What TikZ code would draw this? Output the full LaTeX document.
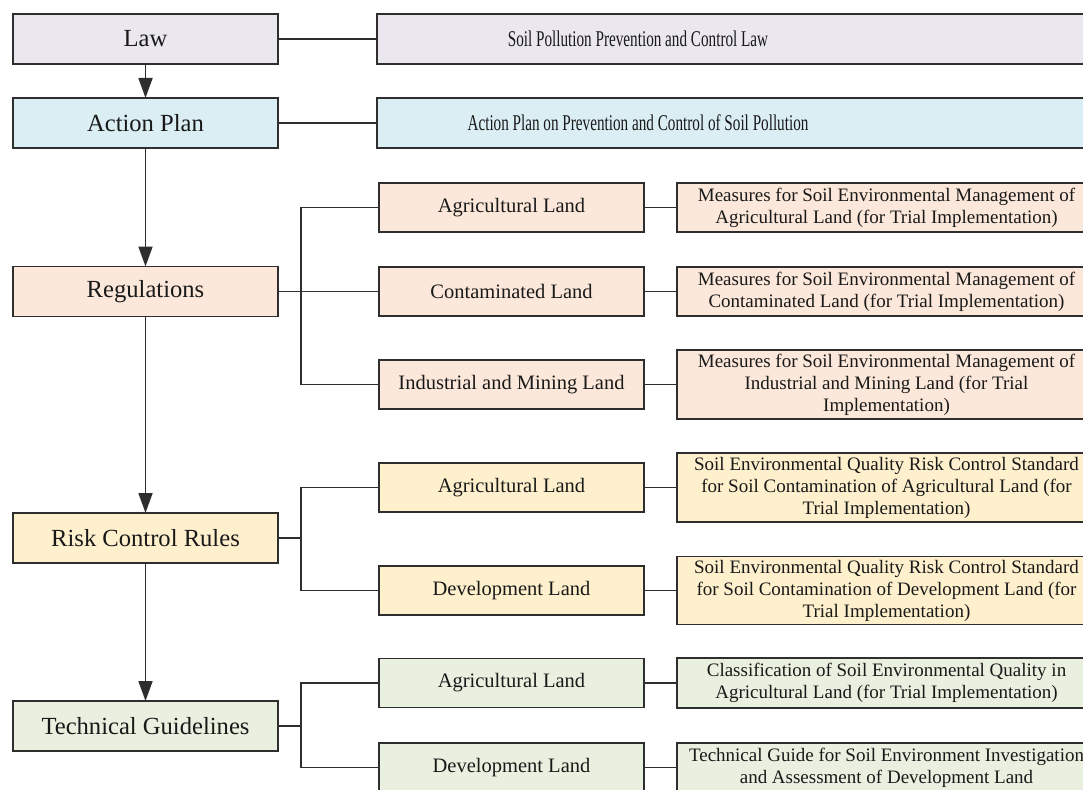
\documentclass[tikz,border=0pt]{standalone}
\usepackage{fontspec}
\setmainfont{Liberation Serif}
\newfontfamily\condfont[FakeStretch=0.675]{Liberation Serif}
\usetikzlibrary{arrows.meta}
\definecolor{linec}{HTML}{2E2E2E}
\definecolor{lawfill}{HTML}{EAE7EF}
\definecolor{actfill}{HTML}{DAEEF3}
\definecolor{regfill}{HTML}{FCE8DA}
\definecolor{riskfill}{HTML}{FEF0CD}
\definecolor{techfill}{HTML}{EAF0DF}
\begin{document}
\begin{tikzpicture}[x=1pt,y=-1pt,
  box/.style={draw=linec, line width=1.8pt, inner sep=0pt, outer sep=0pt, align=center, text=black!90},
  lbox/.style={box, minimum width=265pt, minimum height=50pt, font=\fontsize{24.6}{28}\selectfont},
  mbox/.style={box, minimum width=265pt, minimum height=49pt, font=\fontsize{20.5}{24}\selectfont},
  rbox/.style={box, minimum width=419pt, font=\fontsize{19.0}{22}\selectfont},
  tbox/.style={box, minimum width=719pt, minimum height=50pt},
  ttext/.style={font=\condfont\fontsize{22.5}{24}\selectfont, inner sep=0pt, text=black!90},
  conn/.style={draw=linec, line width=1.8pt},
  arr/.style={conn, -{Triangle[length=20pt,width=14pt]}}
]
\useasboundingbox (0,0) rectangle (1083,789);
\clip (0,0) rectangle (1083,789);

% left column
\node[lbox, fill=lawfill] (law) at (145.5,39) {Law};
\node[lbox, fill=actfill] (act) at (145.5,123) {Action Plan};
\node[lbox, fill=regfill] (reg) at (145.5,291.5) {Regulations};
\node[lbox, fill=riskfill] (risk) at (145.5,538) {Risk Control Rules};
\node[lbox, fill=techfill] (tech) at (145.5,726) {Technical Guidelines};

% top right boxes
\node[tbox, fill=lawfill] (lawR) at (736.5,39) {};
\node[ttext] (lawT) at (638,39) {Soil Pollution Prevention and Control Law};
\node[tbox, fill=actfill] (actR) at (736.5,123) {};
\node[ttext] (actT) at (638,123) {Action Plan on Prevention and Control of Soil Pollution};

% middle column
\node[mbox, fill=regfill] (regA) at (511.5,207.5) {Agricultural Land};
\node[mbox, fill=regfill] (regC) at (511.5,291.5) {Contaminated Land};
\node[mbox, fill=regfill] (regI) at (511.5,384.5) {Industrial and Mining Land};
\node[mbox, fill=riskfill] (riskA) at (511.5,487.5) {Agricultural Land};
\node[mbox, fill=riskfill] (riskD) at (511.5,590.5) {Development Land};
\node[mbox, fill=techfill] (techA) at (511.5,683) {Agricultural Land};
\node[mbox, fill=techfill] (techD) at (511.5,767.5) {Development Land};

% right column
\node[rbox, fill=regfill, minimum height=49pt] (regAR) at (886.5,207.5)
  {Measures for Soil Environmental Management of\\Agricultural Land (for Trial Implementation)};
\node[rbox, fill=regfill, minimum height=49pt] (regCR) at (886.5,291.5)
  {Measures for Soil Environmental Management of\\Contaminated Land (for Trial Implementation)};
\node[rbox, fill=regfill, minimum height=69pt] (regIR) at (886.5,384.5)
  {Measures for Soil Environmental Management of\\Industrial and Mining Land (for Trial\\Implementation)};
\node[rbox, fill=riskfill, minimum height=69pt] (riskAR) at (886.5,487.5)
  {Soil Environmental Quality Risk Control Standard\\for Soil Contamination of Agricultural Land (for\\Trial Implementation)};
\node[rbox, fill=riskfill, minimum height=68pt] (riskDR) at (886.5,590.5)
  {Soil Environmental Quality Risk Control Standard\\for Soil Contamination of Development Land (for\\Trial Implementation)};
\node[rbox, fill=techfill, minimum height=50pt] (techAR) at (886.5,683)
  {Classification of Soil Environmental Quality in\\Agricultural Land (for Trial Implementation)};
\node[rbox, fill=techfill, minimum height=49pt] (techDR) at (886.5,767.5)
  {Technical Guide for Soil Environment Investigation\\and Assessment of Development Land};

% vertical arrows
\draw[arr] (law.south) -- (act.north);
\draw[arr] (act.south) -- (reg.north);
\draw[arr] (reg.south) -- (risk.north);
\draw[arr] (risk.south) -- (tech.north);

% horizontal links
\draw[conn] (law.east) -- (lawR.west);
\draw[conn] (act.east) -- (actR.west);
\foreach \m in {regA,regC,regI,riskA,riskD,techA,techD}{
  \draw[conn] (\m.east) -- (\m R.west);
}

% branches
\coordinate (bx) at (301,0);
\draw[conn] (reg.east) -- (regC.west);
\draw[conn] (regA.west) -- (regA.west -| bx) -- (regI.west -| bx) -- (regI.west);
\draw[conn] (risk.east) -- (risk.east -| bx);
\draw[conn] (riskA.west) -- (riskA.west -| bx) -- (riskD.west -| bx) -- (riskD.west);
\draw[conn] (tech.east) -- (tech.east -| bx);
\draw[conn] (techA.west) -- (techA.west -| bx) -- (techD.west -| bx) -- (techD.west);
\end{tikzpicture}
\end{document}
